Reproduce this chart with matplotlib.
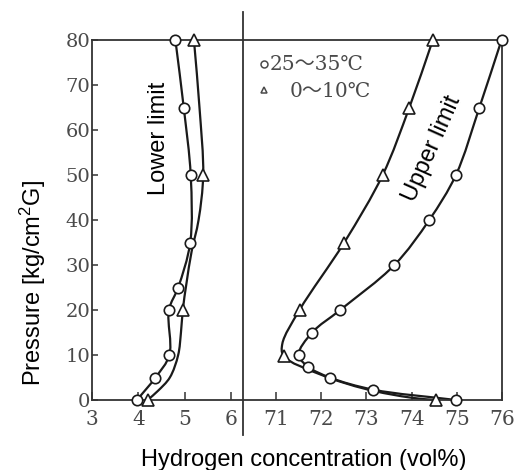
import numpy as np
import matplotlib
matplotlib.use("Agg")
import matplotlib.pyplot as plt
from matplotlib.path import Path
from matplotlib.patches import PathPatch

# ---------------- data ----------------
# Lower limit, 25~35 C (circles)
lower_circle_p = [0, 5, 10, 20, 25, 35, 50, 65, 80]
lower_circle_h = [3.97, 4.37, 4.67, 4.66, 4.86, 5.12, 5.13, 4.98, 4.80]
# Lower limit, 0~10 C (triangles)
lower_tri_p = [0, 20, 50, 80]
lower_tri_h = [4.20, 4.96, 5.40, 5.20]
# traced fitted curve for lower limit, 0~10 C
lower_tri_curve_p = [0, 2, 5, 10, 15, 20, 26, 33, 40, 50, 65, 80]
lower_tri_curve_h = [4.20, 4.42, 4.68, 4.86, 4.92, 4.96, 5.04, 5.15, 5.30, 5.40, 5.32, 5.20]

# Upper limit, 25~35 C (circles)
upper_circle_p = [0, 2.3, 5, 7.4, 10, 15, 20, 30, 40, 50, 65, 80]
upper_circle_h = [74.98, 73.15, 72.19, 71.71, 71.50, 71.80, 72.42, 73.62, 74.39, 74.98, 75.50, 75.99]
# Upper limit, 0~10 C (triangles)
upper_tri_p = [0, 9.8, 20, 35, 50, 65, 80]
upper_tri_h = [74.54, 71.17, 71.52, 72.51, 73.36, 73.95, 74.47]
# traced fitted curve for upper limit, 0~10 C
upper_tri_curve_p = [0, 0.5, 2.4, 5.6, 9.8, 12.5, 20, 35, 50, 65, 80]
upper_tri_curve_h = [74.54, 74.0, 73.0, 72.0, 71.17, 71.14, 71.52, 72.51, 73.36, 73.95, 74.47]

left_xticks = [3, 4, 5, 6]
right_xticks = [71, 72, 73, 74, 75, 76]
yticks = [0, 10, 20, 30, 40, 50, 60, 70, 80]

legend_labels = ["25～35℃", "0～10℃"]
x_label = "Hydrogen concentration (vol%)"
y_label = "Pressure [kg/cm$^2$G]"

# ---------------- styling ----------------
plt.rcParams["mathtext.default"] = "regular"
SANS = ["Liberation Sans", "DejaVu Sans"]
SERIF = ["DejaVu Serif", "Noto Sans CJK JP"]
LINE_C = "#1a1a1a"
AX_C = "#333333"
TICK_C = "#4a4a4a"

W, H = 525, 470
fig = plt.figure(figsize=(W / 100, H / 100), dpi=100)
fig.patch.set_facecolor("white")

px_bottom, px_top = 400, 40
x_left, x_div, x_right = 92, 243, 502
b = 1 - px_bottom / H
h = (px_bottom - px_top) / H
axL = fig.add_axes([x_left / W, b, (x_div - x_left) / W, h])
axR = fig.add_axes([x_div / W, b, (x_right - x_div) / W, h])

axL.set_xlim(3, 3 + (x_div - x_left) / 46.33)
axR.set_xlim(71 - (276 - x_div) / 45.2, 76)
for ax in (axL, axR):
    ax.set_ylim(0, 80)
    ax.set_facecolor("none")
    for s in ax.spines.values():
        s.set_color(AX_C)
        s.set_linewidth(1.3)

axL.spines["right"].set_visible(False)
axR.spines["left"].set_visible(False)

axL.set_yticks(yticks)
axL.set_xticks(left_xticks)
axR.set_xticks(right_xticks)
axR.set_yticks([])

axL.tick_params(axis="y", direction="in", length=4, width=1.1, color=AX_C,
                labelsize=14, labelcolor=TICK_C, pad=1)
for ax in (axL, axR):
    ax.tick_params(axis="x", direction="in", length=6, width=1.1, color=AX_C,
                   labelsize=14.5, labelcolor=TICK_C, pad=7)
    for lab in ax.get_xticklabels() + ax.get_yticklabels():
        lab.set_family(SERIF)

# divider line extending beyond the frame
axL.axvline(axL.get_xlim()[1], ymin=-0.097, ymax=1.078, color=AX_C,
            lw=1.3, clip_on=False)


def smooth_path(xs, ys, sx, sy):
    """Centripetal Catmull-Rom through the given points, as cubic Bezier path."""
    P = np.column_stack([xs, ys]).astype(float)
    Pe = np.vstack([2 * P[0] - P[1], P, 2 * P[-1] - P[-2]])
    S = Pe * np.array([sx, sy])
    verts = [P[0]]
    codes = [Path.MOVETO]
    for k in range(len(P) - 1):
        p0, p1, p2, p3 = Pe[k], Pe[k + 1], Pe[k + 2], Pe[k + 3]
        s0, s1, s2, s3 = S[k], S[k + 1], S[k + 2], S[k + 3]
        t0 = 0.0
        t1 = t0 + max(np.linalg.norm(s1 - s0), 1e-6) ** 0.5
        t2 = t1 + max(np.linalg.norm(s2 - s1), 1e-6) ** 0.5
        t3 = t2 + max(np.linalg.norm(s3 - s2), 1e-6) ** 0.5
        m1 = ((p1 - p0) / (t1 - t0) - (p2 - p0) / (t2 - t0) + (p2 - p1) / (t2 - t1)) * (t2 - t1)
        m2 = ((p2 - p1) / (t2 - t1) - (p3 - p1) / (t3 - t1) + (p3 - p2) / (t3 - t2)) * (t2 - t1)
        verts += [p1 + m1 / 3, p2 - m2 / 3, p2]
        codes += [Path.CURVE4] * 3
    return Path(verts, codes)


def draw_curve(ax, xs, ys, sx):
    path = smooth_path(xs, ys, sx, 4.5)
    ax.add_patch(PathPatch(path, facecolor="none", edgecolor=LINE_C, lw=1.6,
                           clip_on=False, zorder=2))


mk = dict(mfc="white", mec=LINE_C, mew=1.2, ls="none", clip_on=False, zorder=3)

# lower limit
draw_curve(axL, lower_circle_h, lower_circle_p, 46.33)
draw_curve(axL, lower_tri_curve_h, lower_tri_curve_p, 46.33)
axL.plot(lower_circle_h, lower_circle_p, marker="o", ms=7.5, **mk)
axL.plot(lower_tri_h, lower_tri_p, marker="^", ms=8, **mk)

# upper limit
draw_curve(axR, upper_circle_h, upper_circle_p, 45.2)
draw_curve(axR, upper_tri_curve_h, upper_tri_curve_p, 45.2)
axR.plot(upper_circle_h, upper_circle_p, marker="o", ms=7.5, **mk)
axR.plot(upper_tri_h, upper_tri_p, marker="^", ms=8, **mk)

# legend (hand-written style in original)
fig.text(270 / W, 1 - 64 / H, legend_labels[0], family=SERIF, fontsize=14.5,
         color=TICK_C, ha="left", va="center")
fig.text(290 / W, 1 - 91 / H, legend_labels[1], family=SERIF, fontsize=14.5,
         color=TICK_C, ha="left", va="center")
fig.lines.append(plt.Line2D([264 / W], [1 - 64 / H], transform=fig.transFigure,
                            marker="o", ms=5, mfc="white", mec=TICK_C, mew=1.1))
fig.lines.append(plt.Line2D([264 / W], [1 - 90 / H], transform=fig.transFigure,
                            marker="^", ms=5, mfc="white", mec=TICK_C, mew=1.1))

# annotations
fig.text(159 / W, 1 - 138 / H, "Lower limit", family=SANS, fontsize=17,
         rotation=90, ha="center", va="center", color="black")
fig.text(432 / W, 1 - 149 / H, "Upper limit", family=SANS, fontsize=17,
         rotation=66, ha="center", va="center", color="black",
         rotation_mode="anchor")

# axis labels
fig.text(304 / W, 1 - 460 / H, x_label, family=SANS, fontsize=17,
         ha="center", va="center", color="black")
fig.text(33 / W, 1 - 283 / H, y_label, family=SANS, fontsize=17,
         rotation=90, ha="center", va="center", color="black")

fig.savefig("out.png", dpi=100, facecolor="white")
